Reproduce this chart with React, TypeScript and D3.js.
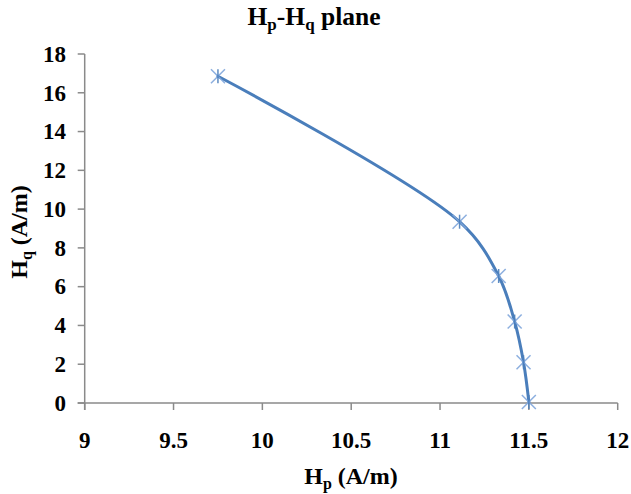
import React from "react";
import * as d3 from "d3";

const hp = [9.75, 11.11, 11.33, 11.42, 11.47, 11.5];
const hq = [16.85, 9.35, 6.55, 4.2, 2.1, 0.05];
const xTicks = [9, 9.5, 10, 10.5, 11, 11.5, 12];
const yTicks = [0, 2, 4, 6, 8, 10, 12, 14, 16, 18];

const W = 631;
const H = 494;
const TS: React.CSSProperties = { fontFamily: "Liberation Serif", fontWeight: "bold" };

export default function App() {
  const x = d3.scaleLinear().domain([9, 12]).range([84.7, 617.7]);
  const y = d3.scaleLinear().domain([0, 18]).range([403, 54]);
  const pts = hp.map((v, i) => [x(v), y(hq[i])] as [number, number]);
  const line = d3.line().curve(d3.curveCatmullRom.alpha(0.5))(pts) || "";
  const axisColor = "#8a8a8a";
  const blue = "#4a7ebb";
  const ms = 7;
  return (
    <svg width={W} height={H} style={{ position: "absolute", left: 0, top: 0, background: "#fff" }}>
      <text x={314} y={25} textAnchor="middle" fontSize={25.5} style={TS}>
        H<tspan fontSize={17} dy={5}>p</tspan>
        <tspan dy={-5}>-H</tspan>
        <tspan fontSize={17} dy={5}>q</tspan>
        <tspan dy={-5}> plane</tspan>
      </text>
      <line x1={x(9)} x2={x(9)} y1={y(18)} y2={y(0) + 7} stroke={axisColor} strokeWidth={1.5} />
      <line x1={x(9) - 7} x2={x(12)} y1={y(0)} y2={y(0)} stroke={axisColor} strokeWidth={1.5} />
      {yTicks.map((t) => (
        <g key={"y" + t}>
          <line x1={x(9) - 7} x2={x(9)} y1={y(t)} y2={y(t)} stroke={axisColor} strokeWidth={1.5} />
          <text x={66} y={y(t)} dy="0.34em" textAnchor="end" fontSize={23} style={TS}>
            {t}
          </text>
        </g>
      ))}
      {xTicks.map((t) => (
        <g key={"x" + t}>
          <line x1={x(t)} x2={x(t)} y1={y(0)} y2={y(0) + 7} stroke={axisColor} strokeWidth={1.5} />
          <text x={x(t)} y={448} textAnchor="middle" fontSize={23} style={TS}>
            {t}
          </text>
        </g>
      ))}
      <text x={351} y={484} textAnchor="middle" fontSize={24} style={TS}>
        H<tspan fontSize={16} dy={5}>p</tspan>
        <tspan dy={-5}> (A/m)</tspan>
      </text>
      <text transform="translate(27,232) rotate(-90)" textAnchor="middle" fontSize={24} style={TS}>
        H<tspan fontSize={16} dy={5}>q</tspan>
        <tspan dy={-5}> (A/m)</tspan>
      </text>
      <path d={line} fill="none" stroke={blue} strokeWidth={3} strokeLinecap="round" />
      {pts.map(([px, py], i) => (
        <g key={"m" + i} stroke="#7fa6dc" strokeWidth={1.5} strokeOpacity={0.9}>
          <line x1={px - ms} x2={px + ms} y1={py - ms} y2={py + ms} />
          <line x1={px - ms} x2={px + ms} y1={py + ms} y2={py - ms} />
          <line x1={px} x2={px} y1={py - ms} y2={py + ms} stroke={blue} />
        </g>
      ))}
    </svg>
  );
}
